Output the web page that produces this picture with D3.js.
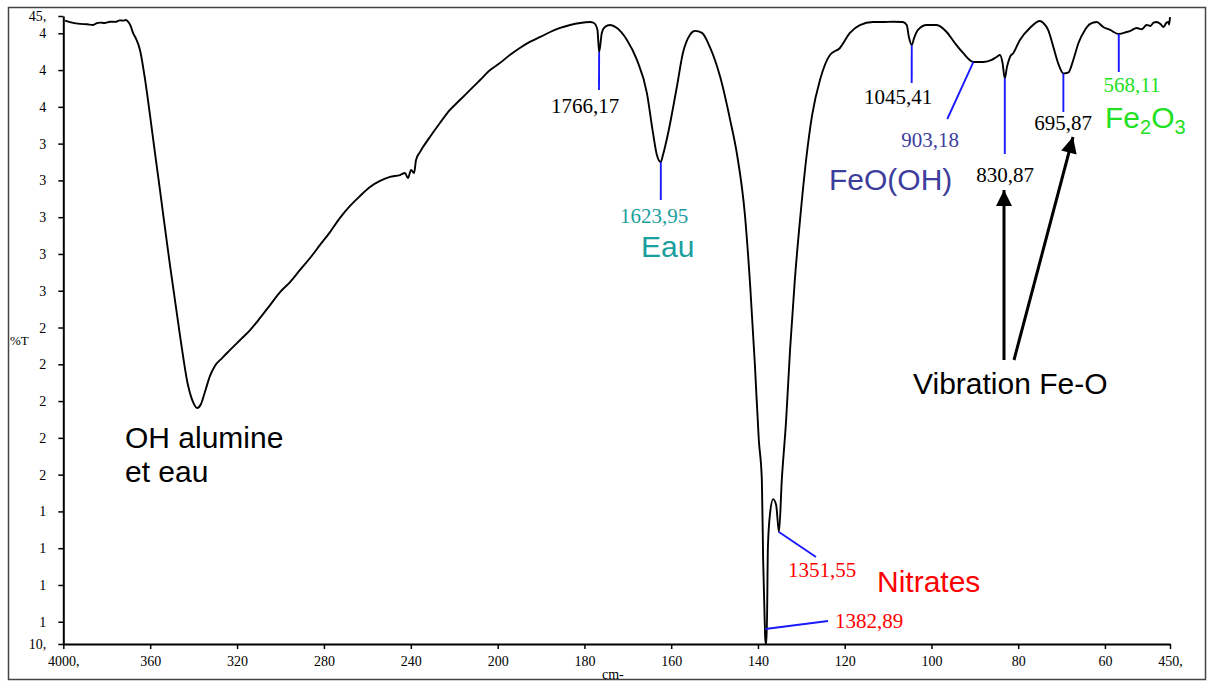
<!DOCTYPE html>
<html>
<head>
<meta charset="utf-8">
<script src="https://cdn.jsdelivr.net/npm/d3@7"></script>
<style>
  body { margin: 0; background: #fff; }
  .axis text { font-family: "Liberation Serif", serif; font-size: 14px; fill: #000; }
  .axis path, .axis line { stroke: #000; }
</style>
</head>
<body>
<script>
const width = 1212, height = 682;

// IR spectrum: wavenumber (cm-1) and %T
const wavenumbers = [
  3992, 3960, 3923, 3890, 3863, 3845, 3831, 3810, 3785, 3760, 3740, 3725, 3712, 3702, 3690, 3679, 3665, 3647, 3625, 3601,
  3578, 3555, 3509, 3463, 3426, 3403, 3384, 3366, 3348, 3325, 3302, 3269, 3232, 3186, 3140, 3094, 3048, 3002, 2956, 2910,
  2864, 2818, 2772, 2726, 2680, 2634, 2588, 2542, 2496, 2450, 2427, 2413, 2399, 2385, 2376, 2358, 2312, 2266, 2220, 2174,
  2127, 2081, 2035, 1995, 1972, 1949, 1926, 1902, 1879, 1856, 1833, 1810, 1787, 1778, 1770, 1766.17, 1760, 1753, 1741, 1725,
  1702, 1679, 1656, 1642, 1633, 1623.95, 1619, 1607, 1587, 1573, 1557, 1545, 1529, 1511, 1487, 1464, 1448, 1430, 1418, 1407,
  1398, 1391, 1388, 1384, 1382.89, 1380, 1377, 1372, 1365, 1358, 1351.55, 1345, 1335, 1326, 1315, 1303, 1289, 1275, 1257, 1234,
  1211, 1188, 1165, 1135, 1112, 1089, 1066, 1057, 1052, 1045.41, 1040, 1031, 1011, 988, 965, 946, 927, 903.18, 880, 861,
  850, 842, 836, 830.87, 826, 819, 811, 796, 773, 750, 742, 731, 719, 708, 695.87, 684, 673, 661, 646, 634,
  619, 604, 588, 568.11, 550, 540, 527, 515, 504, 495, 488, 481, 472, 465, 458, 454, 452, 450
];
const transmittance = [
  44.69, 44.58, 44.51, 44.49, 44.45, 44.55, 44.58, 44.56, 44.63, 44.62, 44.70, 44.69, 44.72, 44.63, 44.40, 44.02, 43.70, 43.09, 41.60, 39.56,
  37.50, 35.48, 31.40, 27.59, 24.87, 23.95, 23.62, 23.84, 24.49, 25.36, 25.91, 26.34, 26.78, 27.32, 27.86, 28.52, 29.22, 29.93, 30.47, 31.13,
  31.78, 32.49, 33.19, 33.96, 34.61, 35.15, 35.64, 35.97, 36.19, 36.29, 36.40, 36.13, 36.57, 36.40, 37.11, 37.54, 38.36, 39.12, 39.83, 40.37,
  40.92, 41.46, 42.00, 42.38, 42.82, 43.20, 43.53, 43.80, 44.07, 44.29, 44.45, 44.56, 44.61, 44.56, 44.18, 42.98, 44.02, 44.34, 44.45, 44.29,
  43.64, 42.55, 40.75, 38.58, 37.38, 37.00, 37.38, 38.58, 41.08, 42.93, 43.91, 44.13, 44.02, 43.26, 41.62, 39.28, 37.38, 34.12, 30.31, 25.96,
  21.88, 19.71, 15.36, 11.71, 10.84, 10.84, 16.06, 17.91, 18.67, 18.35, 16.88, 19.71, 22.97, 26.78, 30.58, 33.85, 37.11, 39.56, 41.46, 42.82,
  43.20, 44.02, 44.45, 44.61, 44.61, 44.63, 44.61, 44.45, 43.80, 43.36, 43.74, 44.18, 44.45, 44.45, 44.07, 43.47, 42.93, 42.44, 42.44, 42.55,
  42.71, 42.82, 42.38, 41.55, 42.16, 42.71, 42.93, 43.64, 44.29, 44.67, 44.56, 44.18, 43.26, 42.38, 41.82, 41.88, 42.55, 43.47, 44.18, 44.51,
  44.61, 44.34, 44.18, 43.96, 44.07, 44.15, 44.29, 44.22, 44.45, 44.40, 44.58, 44.61, 44.50, 44.34, 44.58, 44.61, 44.48, 44.88
];

const xTickValues = [4000, 3600, 3200, 2800, 2400, 2000, 1800, 1600, 1400, 1200, 1000, 800, 600, 450];
const xTickLabels = ["4000,", "360", "320", "280", "240", "200", "180", "160", "140", "120", "100", "80", "60", "450,"];
const yTickValues = [44.94, 44, 42, 40, 38, 36, 34, 32, 30, 28, 26, 24, 22, 20, 18, 16, 14, 12, 10.79];
const yTickLabels = ["45,", "4", "4", "4", "3", "3", "3", "3", "3", "2", "2", "2", "2", "2", "1", "1", "1", "1", "10,"];

const peakWavenumbers = [1766.17, 1623.95, 1045.41, 903.18, 830.87, 695.87, 568.11, 1382.89, 1351.55];
const peakLabels = ["1766,17", "1623,95", "1045,41", "903,18", "830,87", "695,87", "568,11", "1382,89", "1351,55"];

const data = wavenumbers.map((w, i) => ({ wn: w, t: transmittance[i] }));

const svg = d3.select("body").append("svg")
  .attr("width", width)
  .attr("height", height);

// frame around the picture
svg.append("rect")
  .attr("x", 8.5).attr("y", 7.5)
  .attr("width", 1197).attr("height", 672)
  .attr("fill", "none")
  .attr("stroke", "#444")
  .attr("stroke-width", 1.5);

// the x axis is expanded 2x below 2000 cm-1
const x = d3.scaleLinear()
  .domain([4000, 2000, 450])
  .range([63.3, 497.7, 1170]);

const y = d3.scaleLinear()
  .domain([10.79, 44.94])
  .range([644, 16]);

svg.append("g")
  .attr("class", "axis")
  .attr("transform", "translate(0,644)")
  .call(d3.axisBottom(x)
    .tickValues(xTickValues)
    .tickFormat((d, i) => xTickLabels[i])
    .tickSize(5)
    .tickSizeOuter(0)
    .tickPadding(7))
  .call(g => g.select(".domain").attr("stroke-width", 2))
  .call(g => g.selectAll(".tick line").attr("stroke-width", 1.5));

svg.append("g")
  .attr("class", "axis")
  .attr("transform", "translate(63.3,0)")
  .call(d3.axisLeft(y)
    .tickValues(yTickValues)
    .tickFormat((d, i) => yTickLabels[i])
    .tickSize(5)
    .tickSizeOuter(0)
    .tickPadding(12))
  .call(g => g.select(".domain").attr("stroke-width", 2))
  .call(g => g.selectAll(".tick line").attr("stroke-width", 1.5));

svg.append("text")
  .attr("x", 10).attr("y", 345)
  .style("font-family", "Liberation Serif, serif")
  .style("font-size", "13px")
  .text("%T");

svg.append("text")
  .attr("x", 602).attr("y", 679)
  .style("font-family", "Liberation Serif, serif")
  .style("font-size", "14px")
  .text("cm-");

// spectrum
const line = d3.line()
  .x(d => x(d.wn))
  .y(d => y(d.t))
  .curve(d3.curveMonotoneX);

svg.append("path")
  .datum(data)
  .attr("d", line)
  .attr("fill", "none")
  .attr("stroke", "#000")
  .attr("stroke-width", 1.9)
  .attr("stroke-linejoin", "round");

// peak leaders: end point and label placement
const leaders = [
  { x2: 599, y2: 90, lx: 585, ly: 113, anchor: "middle", color: "#000" },
  { x2: 660.8, y2: 200, lx: 654, ly: 223, anchor: "middle", color: "#1a9e9e" },
  { x2: 911.7, y2: 83, lx: 898, ly: 104, anchor: "middle", color: "#000" },
  { x2: 947.3, y2: 119, lx: 930, ly: 147, anchor: "middle", color: "#3d3d9c" },
  { x2: 1004.8, y2: 154, lx: 1005, ly: 182, anchor: "middle", color: "#000" },
  { x2: 1063.4, y2: 112, lx: 1063, ly: 130, anchor: "middle", color: "#000" },
  { x2: 1118.8, y2: 72, lx: 1132, ly: 92, anchor: "middle", color: "#22e022" },
  { y1: 629, x2: 828, y2: 621, lx: 835, ly: 628, anchor: "start", color: "#ff0000" },
  { x2: 816, y2: 557, lx: 788, ly: 577, anchor: "start", color: "#ff0000" }
];

const tAt = w => data.find(d => d.wn === w).t;

peakWavenumbers.forEach((w, i) => {
  const L = leaders[i];
  svg.append("line")
    .attr("x1", x(w))
    .attr("y1", L.y1 !== undefined ? L.y1 : y(tAt(w)))
    .attr("x2", L.x2).attr("y2", L.y2)
    .attr("stroke", "#1a1aff")
    .attr("stroke-width", 1.9);
  svg.append("text")
    .attr("x", L.lx).attr("y", L.ly)
    .attr("text-anchor", L.anchor)
    .attr("fill", L.color)
    .style("font-family", "Liberation Serif, serif")
    .style("font-size", "21px")
    .text(peakLabels[i]);
});

// group labels
const big = (t, px, py, color) => svg.append("text")
  .attr("x", px).attr("y", py)
  .attr("fill", color)
  .style("font-family", "Liberation Sans, Arial, sans-serif")
  .style("font-size", "30px")
  .text(t);

big("OH alumine", 125, 448, "#000");
big("et eau", 125, 482, "#000");
big("Eau", 641, 257, "#1a9e9e");
big("FeO(OH)", 829, 190, "#3d3d9c");
big("Nitrates", 877, 592, "#ff0000");
big("Vibration Fe-O", 913, 394, "#000");

const fe = big("", 1105, 128, "#22e022");
fe.append("tspan").text("Fe");
fe.append("tspan").attr("dy", 6).style("font-size", "20px").text("2");
fe.append("tspan").attr("dy", -6).text("O");
fe.append("tspan").attr("dy", 6).style("font-size", "20px").text("3");

// arrows towards the Fe-O peaks
svg.append("defs").append("marker")
  .attr("id", "head")
  .attr("markerUnits", "userSpaceOnUse")
  .attr("viewBox", "0 0 10 10")
  .attr("refX", 10).attr("refY", 5)
  .attr("markerWidth", 18).attr("markerHeight", 16)
  .attr("orient", "auto")
  .append("path")
  .attr("d", "M0,0L10,5L0,10Z")
  .attr("fill", "#000");

[[1004, 360, 1004, 190], [1014, 360, 1073, 137]].forEach(a => {
  svg.append("line")
    .attr("x1", a[0]).attr("y1", a[1])
    .attr("x2", a[2]).attr("y2", a[3])
    .attr("stroke", "#000")
    .attr("stroke-width", 3)
    .attr("marker-end", "url(#head)");
});
</script>
</body>
</html>
